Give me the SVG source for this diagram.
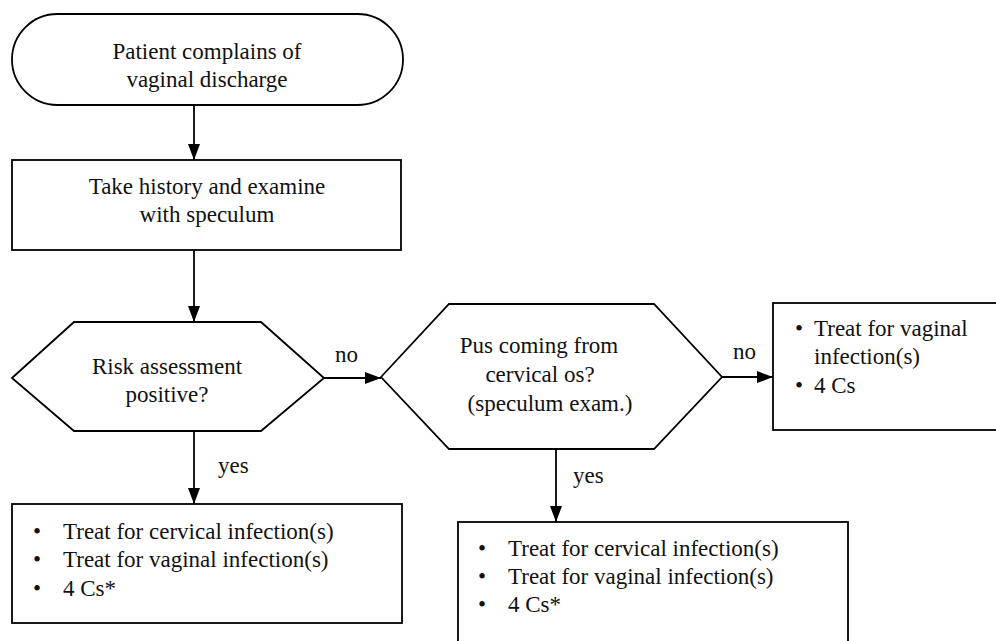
<svg xmlns="http://www.w3.org/2000/svg" width="996" height="641" viewBox="0 0 996 641">
  <style>
    .shape { fill: #ffffff; stroke: #000000; stroke-width: 1.8; }
    .edge { fill: none; stroke: #000000; stroke-width: 1.8; marker-end: url(#arrow); }
    text { font-family: "Liberation Serif", "DejaVu Serif", serif; font-size: 23px; fill: #111111; }
    .c { text-anchor: middle; }
  </style>
  <defs>
    <marker id="arrow" markerUnits="userSpaceOnUse" markerWidth="16" markerHeight="12" refX="16" refY="6" orient="auto">
      <path d="M0,0 L16,6 L0,12 z" fill="#000000"/>
    </marker>
  </defs>

  <rect width="996" height="641" fill="#ffffff"/>

  <!-- connectors -->
  <g id="connectors">
    <line class="edge" x1="194" y1="105" x2="194" y2="160"/>
    <line class="edge" x1="194" y1="250" x2="194" y2="322"/>
    <line class="edge" x1="324" y1="378" x2="381" y2="378"/>
    <line class="edge" x1="194" y1="431" x2="194" y2="504"/>
    <line class="edge" x1="722" y1="377" x2="773" y2="377"/>
    <line class="edge" x1="556" y1="449" x2="556" y2="522"/>
    <text x="335" y="362">no</text>
    <text x="733" y="359">no</text>
    <text x="218" y="473">yes</text>
    <text x="573" y="483">yes</text>
  </g>

  <!-- start terminal -->
  <g id="start">
    <rect class="shape" x="12" y="14" width="391" height="91" rx="45.5" ry="45.5"/>
    <text class="c" x="207" y="59">Patient complains of</text>
    <text class="c" x="207" y="87">vaginal discharge</text>
  </g>

  <!-- history / exam step -->
  <g id="history">
    <rect class="shape" x="12" y="160" width="389" height="90"/>
    <text class="c" x="207" y="194">Take history and examine</text>
    <text class="c" x="207" y="222">with speculum</text>
  </g>

  <!-- decision: risk assessment -->
  <g id="risk">
    <polygon class="shape" points="12,378 74,322 261,322 324,378 261,431 74,431"/>
    <text class="c" x="167" y="374">Risk assessment</text>
    <text class="c" x="167" y="402">positive?</text>
  </g>

  <!-- decision: pus from cervical os -->
  <g id="pus">
    <polygon class="shape" points="381,377 449,304 654,304 722,377 654,449 449,449"/>
    <text class="c" x="539" y="353">Pus coming from</text>
    <text class="c" x="540" y="382">cervical os?</text>
    <text class="c" x="550" y="411">(speculum exam.)</text>
  </g>

  <!-- outcome: vaginal only -->
  <g id="vaginal">
    <rect class="shape" x="773" y="303" width="240" height="127"/>
    <text class="c" x="799" y="336">•</text>
    <text x="814" y="336">Treat for vaginal</text>
    <text x="814" y="364">infection(s)</text>
    <text class="c" x="799" y="393">•</text>
    <text x="814" y="393">4 Cs</text>
  </g>

  <!-- outcome: risk positive -->
  <g id="treat-risk">
    <rect class="shape" x="12" y="504" width="390" height="119"/>
    <text class="c" x="37" y="539">•</text>
    <text x="63" y="539">Treat for cervical infection(s)</text>
    <text class="c" x="37" y="567">•</text>
    <text x="63" y="567">Treat for vaginal infection(s)</text>
    <text class="c" x="37" y="596">•</text>
    <text x="63" y="596">4 Cs*</text>
  </g>

  <!-- outcome: pus present -->
  <g id="treat-pus">
    <rect class="shape" x="458" y="522" width="390" height="140"/>
    <text class="c" x="482" y="556">•</text>
    <text x="508" y="556">Treat for cervical infection(s)</text>
    <text class="c" x="482" y="584">•</text>
    <text x="508" y="584">Treat for vaginal infection(s)</text>
    <text class="c" x="482" y="612">•</text>
    <text x="508" y="612">4 Cs*</text>
  </g>
</svg>
